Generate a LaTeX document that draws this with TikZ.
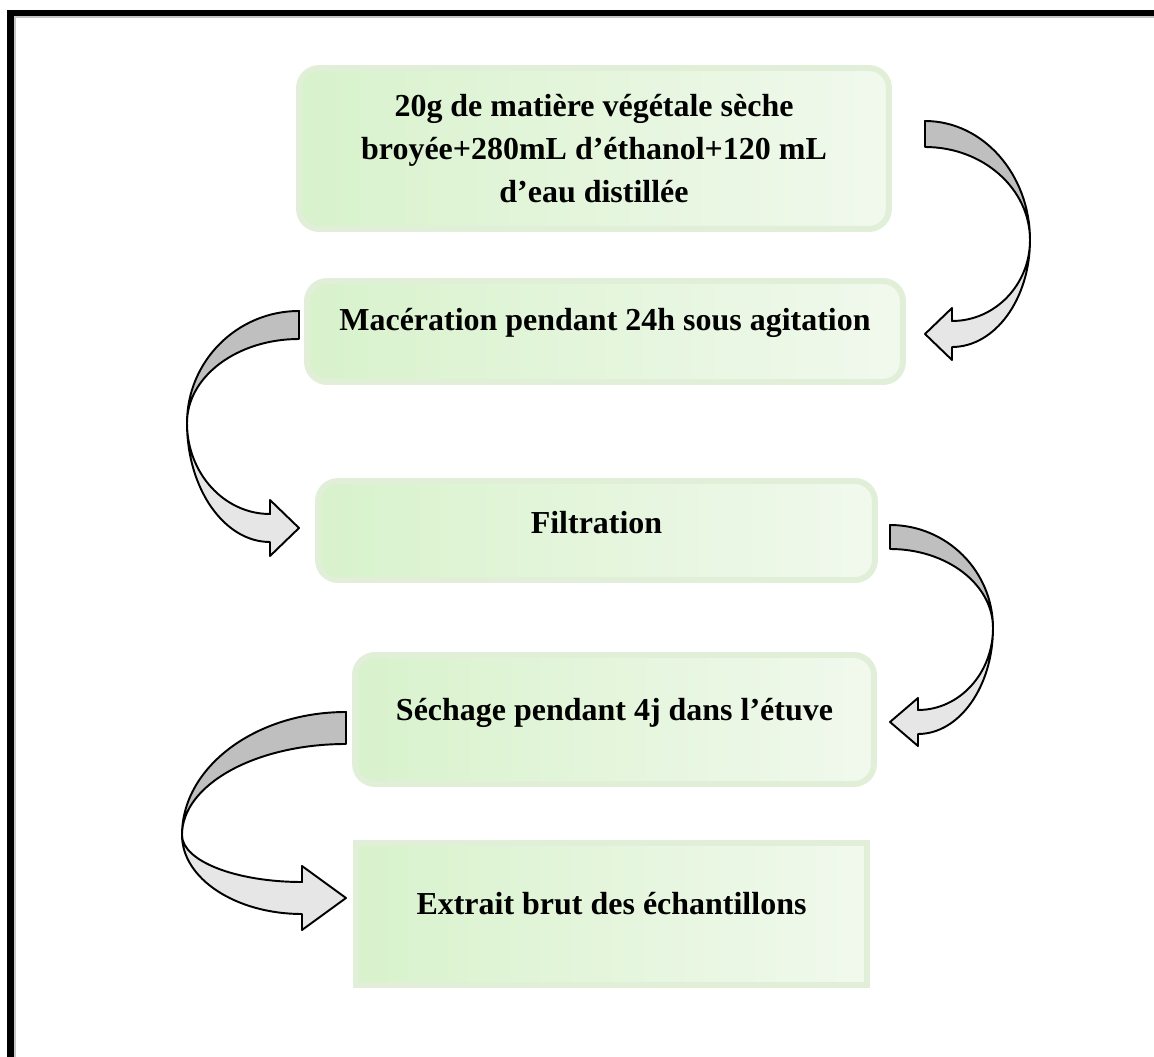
\documentclass[tikz,border=0pt]{standalone}
\usepackage{fontspec}
\setmainfont{Liberation Serif}
\usepackage{xcolor}
\definecolor{boxleft}{RGB}{216,242,204}
\definecolor{boxright}{RGB}{241,249,237}
\definecolor{boxedge}{RGB}{225,239,216}
\definecolor{arrowdark}{RGB}{191,191,191}
\definecolor{arrowlight}{RGB}{230,230,230}

\begin{document}
\begin{tikzpicture}[
  x=0.02cm, y=-0.02cm,
  stepbox/.style={draw=boxedge, line width=3.4pt, left color=boxleft, right color=boxright,
    rounded corners=0.4cm, inner sep=0pt, align=center,
    font=\bfseries\fontsize{18.2}{24.5}\selectfont},
  squarebox/.style={stepbox, sharp corners},
  arrowline/.style={draw=black, line width=1.1pt, line join=round},
  frameline/.style={line width=3.7pt},
  % reach / turn depth / tip depth / head length / band width
  pics/bendarrow/.style args={#1/#2/#3/#4/#5}{code={
    \filldraw[arrowline, fill=arrowdark]
      (0,0) .. controls ({0.552*#1},0) and (#1,{0.448*#2}) .. (#1,#2)
      .. controls (#1,{#2-0.552*(#2-#5)}) and ({0.552*#1},#5) .. (0,#5) -- cycle;
    \filldraw[arrowline, fill=arrowlight]
      (#1,#2) .. controls (#1,{#2+0.552*(#3-#5/2-#2)}) and ({#4+0.552*(#1-#4)},{#3-#5/2}) .. (#4,{#3-#5/2})
      -- (#4,{#3-#5}) -- (0,#3) -- (#4,{#3+#5}) -- (#4,{#3+#5/2})
      .. controls ({#4+0.552*(#1-#4)},{#3+#5/2}) and (#1,{#2+0.552*(#3+#5/2-#2)}) .. (#1,#2) -- cycle;
  }}
]
\useasboundingbox (0,0) rectangle (1154,1057);
\draw[frameline] (10.5,1057) -- (10.5,13) -- (1154,13);
\draw[gray!45, line width=0.6pt] (15,1057) -- (15,17) -- (1154,17);

\node[stepbox, minimum width=11.8cm, minimum height=3.22cm] (broyat) at (594,148.5)
  {20g de matière végétale sèche\\broyée+280mL d’éthanol+120 mL\\d’eau distillée};
\node[stepbox, minimum width=11.92cm, minimum height=2.02cm, text depth=13.6pt] (maceration) at (605,331.5)
  {Macération pendant 24h sous agitation};
\node[stepbox, minimum width=11.14cm, minimum height=1.98cm, text depth=9.6pt] (filtration) at (596.5,530.5)
  {Filtration};
\node[stepbox, minimum width=10.38cm, minimum height=2.58cm, text depth=11.4pt] (sechage) at (614.5,719.5)
  {Séchage pendant 4j dans l’étuve};
\node[squarebox, minimum width=10.22cm, minimum height=2.84cm, text depth=12.5pt] (extrait) at (611.5,914)
  {Extrait brut des échantillons};

\pic (arrA) at (925,121) {bendarrow=105/119/213/27/26};
\pic[xscale=-1] (arrB) at (299,311) {bendarrow=112/112/217/29/28};
\pic (arrC) at (890,525) {bendarrow=103/103/197/28/24};
\pic[xscale=-1] (arrD) at (346,712) {bendarrow=164/123/186/44/32};
\end{tikzpicture}
\end{document}
